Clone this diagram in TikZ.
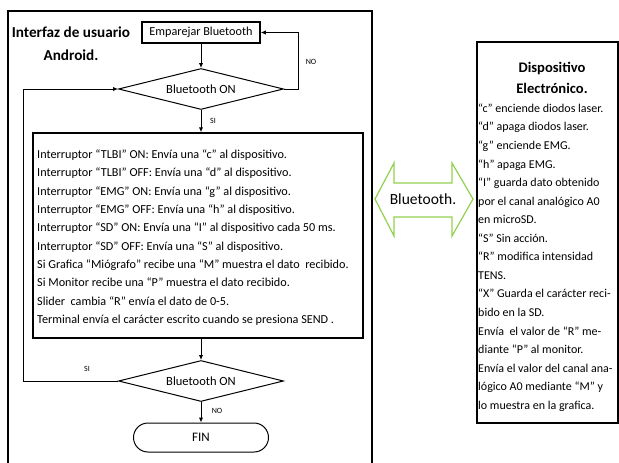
\documentclass[tikz,border=0pt]{standalone}
\usepackage{fontspec}
\setmainfont{Carlito}
\usetikzlibrary{shapes.geometric,shapes.misc,arrows.meta}
\definecolor{btgreen}{RGB}{146,208,80}
\begin{document}
\begin{tikzpicture}[x=1pt,y=-1pt,
 box/.style={draw, line width=1.5pt, inner sep=0pt},
 dec/.style={draw, diamond, aspect=4, line width=1pt, inner sep=0pt, minimum width=165pt, minimum height=41pt, font=\fontsize{12.5}{14}\selectfont},
 arr/.style={line width=1pt, -{Latex[length=5pt,width=4.5pt]}},
 lbl/.style={font=\fontsize{8}{9}\selectfont, inner sep=0pt},
 txt/.style={anchor=north west, inner sep=0pt, align=left},
 ]
\useasboundingbox (0,0) rectangle (619,463);
% left frame
\draw[line width=1.5pt] (8,463) -- (8,11) -- (372,11) -- (372,463);
\node[font=\bfseries\fontsize{15.2}{23}\selectfont, align=center, inner sep=0pt] (title) at (71,43.5) {Interfaz de usuario\\Android.};
% flowchart
\node[box, minimum width=118pt, minimum height=21pt, font=\fontsize{12.2}{14}\selectfont] (emp) at (201,32.5) {Emparejar Bluetooth};
\node[dec] (d1) at (201,89) {Bluetooth ON};
\node[box, minimum width=330pt, minimum height=205pt] (main) at (198,235.5) {};
\node[txt, font=\fontsize{12.2}{18.35}\selectfont] (maintext) at (37,149.5) {Interruptor “TLBI” ON: Envía una “c” al dispositivo.\\
Interruptor “TLBI” OFF: Envía una “d” al dispositivo.\\
Interruptor “EMG” ON: Envía una “g” al dispositivo.\\
Interruptor “EMG” OFF: Envía una “h” al dispositivo.\\
Interruptor “SD” ON: Envía una “I” al dispositivo cada 50 ms.\\
Interruptor “SD” OFF: Envía una “S” al dispositivo.\\
Si Grafica “Miógrafo” recibe una “M” muestra el dato\ \ recibido.\\
Si Monitor recibe una “P” muestra el dato recibido.\\
Slider\ \ cambia “R” envía el dato de 0-5.\\
Terminal envía el carácter escrito cuando se presiona SEND .};
\node[dec] (d2) at (201,381) {Bluetooth ON};
\node[draw, rounded rectangle, line width=1pt, minimum width=135pt, minimum height=29pt, inner sep=0pt, font=\fontsize{13}{15}\selectfont] (fin) at (201,437.5) {FIN};
% connectors
\coordinate (nr) at (298,89);
\coordinate (ll) at (23,381);
\draw[arr] (emp.south) -- (d1.north);
\draw[arr] (d1.east) -- (nr) |- (emp.east);
\draw[arr] (d1.south) -- (d1.south |- main.north);
\draw[arr] (d2.north |- main.south) -- (d2.north);
\draw[arr] (d2.west) -- (ll) |- (d1.west);
\draw[arr] (d2.south) -- (fin.north);
\node[lbl] (lno1) at (311,62) {NO};
\node[lbl] (lsi1) at (213,121) {SI};
\node[lbl] (lsi2) at (87,369) {SI};
\node[lbl] (lno2) at (217,411) {NO};
% bluetooth arrow
\draw[btgreen, line width=1.2pt, line join=miter] (375,199) -- (394,163) -- (394,183) -- (452,183) -- (452,163) -- (473,199) -- (452,236) -- (452,217) -- (394,217) -- (394,236) -- cycle;
\node[font=\fontsize{15.5}{17}\selectfont, inner sep=0pt] (bt) at (423,199) {Bluetooth.};
% device box
\node[draw, line width=2pt, minimum width=141pt, minimum height=381pt, inner sep=0pt] (dev) at (547.5,232.5) {};
\node[font=\bfseries\fontsize{14.6}{21}\selectfont, align=center, inner sep=0pt] (dtitle) at (552,77.5) {Dispositivo\\Electrónico.};
\node[txt, font=\fontsize{12}{18.56}\selectfont] (devtext) at (478,103.5) {“c” enciende diodos laser.\\
“d” apaga diodos laser.\\
“g” enciende EMG.\\
“h” apaga EMG.\\
“I” guarda dato obtenido\\
por el canal analógico A0\\
en microSD.\\
“S” Sin acción.\\
“R” modifica intensidad\\
TENS.\\
“X” Guarda el carácter reci-\\
bido en la SD.\\
Envía\ \ el valor de “R” me-\\
diante “P” al monitor.\\
Envía el valor del canal ana-\\
lógico A0 mediante “M” y\\
lo muestra en la grafica.};
\end{tikzpicture}
\end{document}
